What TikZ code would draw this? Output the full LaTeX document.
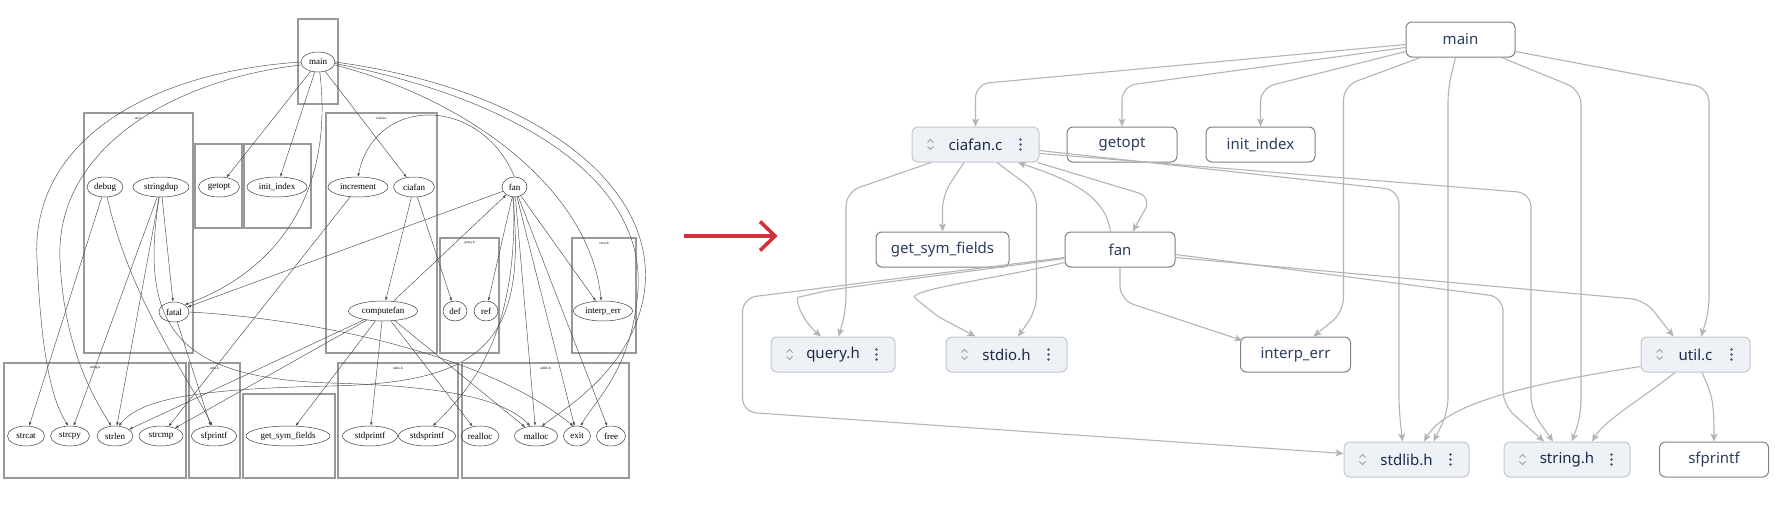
\documentclass[tikz,border=0pt]{standalone}
\usepackage{fontspec}
\setmainfont{Liberation Serif}
\newfontfamily\uisans{Noto Sans}
\usetikzlibrary{shapes.geometric,arrows.meta}
\definecolor{edgegray}{HTML}{B4B4B4}
\definecolor{boxborder}{HTML}{7D8087}
\definecolor{fileborder}{HTML}{C3C7CD}
\definecolor{filefill}{HTML}{EEF2F7}
\definecolor{navy}{HTML}{1B2A4A}
\definecolor{plaintext}{HTML}{2E3D5C}
\definecolor{icongray}{HTML}{9A9EA6}
\definecolor{arrowred}{HTML}{D2313A}
\tikzset{
  lnode/.style={ellipse, draw=black!75, line width=0.5pt, minimum height=20pt, inner sep=0pt, font=\fontsize{9}{9}\selectfont},
  lcluster/.style={draw=black!40, line width=1.3pt},
  lclabel/.style={font=\fontsize{3.5}{4}\selectfont, inner sep=0pt},
  le/.style={draw=black!70, line width=0.45pt, -{Latex[length=3.5pt,width=2.6pt]}},
  plain/.style={rectangle, rounded corners=6pt, draw=boxborder, line width=1pt, fill=white, minimum height=35pt, inner sep=0pt, font=\uisans\fontsize{15}{15}\selectfont, text=plaintext},
  file/.style={plain, draw=fileborder, fill=filefill, font=\uisans\bfseries\fontsize{15}{15}\selectfont, text=navy},
  re/.style={draw=edgegray, line width=1.1pt, rounded corners=14pt, -{Stealth[length=8pt,width=7pt,inset=2pt]}},
  redarrow/.style={draw=arrowred, line width=3.6pt}
}
\newcommand\fileicons[1]{%
  \draw[icongray, line width=0.8pt] ([shift={(16,-2)}]#1.west) -- ++(3,-3) -- ++(3,3);
  \draw[icongray, line width=0.8pt] ([shift={(16,2)}]#1.west) -- ++(3,3) -- ++(3,-3);
  \fill[navy!80] ([shift={(-19,-5)}]#1.east) circle (1.3) ([shift={(-19,0)}]#1.east) circle (1.3) ([shift={(-19,5)}]#1.east) circle (1.3);
}
\begin{document}
\begin{tikzpicture}[x=1pt,y=-1pt]
\useasboundingbox (0,0) rectangle (1780,506);
\fill[white] (0,0) rectangle (1780,506);

% ---------------- left: graphviz-like picture ----------------
\draw[lcluster] (298,19) rectangle (338,104);
\draw[lcluster] (84,113) rectangle (193,353);
\node[lclabel] at (138.5,118) {util.c};
\draw[lcluster] (195,144) rectangle (242,228);
\draw[lcluster] (244,144) rectangle (311,228);
\draw[lcluster] (326,113) rectangle (437,353);
\node[lclabel] at (381.5,118) {ciafan.c};
\draw[lcluster] (440,238) rectangle (499,353);
\node[lclabel] at (469.5,243) {query.h};
\draw[lcluster] (572,238) rectangle (636,353);
\node[lclabel] at (604,243) {error.h};
\draw[lcluster] (4,363) rectangle (186,478);
\node[lclabel] at (95,368) {string.h};
\draw[lcluster] (189,363) rectangle (240,478);
\node[lclabel] at (214.5,368) {stdx.h};
\draw[lcluster] (243,394) rectangle (335,478);
\draw[lcluster] (338,363) rectangle (458,478);
\node[lclabel] at (398,368) {stdio.h};
\draw[lcluster] (462,363) rectangle (629,478);
\node[lclabel] at (545.5,368) {stdlib.h};

\node[lnode, minimum width=34] (lmain) at (318,62) {main};
\node[lnode, minimum width=36] (ldebug) at (105,187) {debug};
\node[lnode, minimum width=56] (lstringdup) at (161,187) {stringdup};
\node[lnode, minimum width=41] (lgetopt) at (219,187) {getopt};
\node[lnode, minimum width=60] (linit) at (277,187) {init\_index};
\node[lnode, minimum width=60] (lincrement) at (358,187) {increment};
\node[lnode, minimum width=41] (lciafan) at (414,187) {ciafan};
\node[lnode, minimum width=25] (lfan) at (514.5,187) {fan};
\node[lnode, minimum width=30] (lfatal) at (174,312) {fatal};
\node[lnode, minimum width=69] (lcomputefan) at (383,311) {computefan};
\node[lnode, minimum width=24] (ldef) at (455,311) {def};
\node[lnode, minimum width=24] (lref) at (486,311) {ref};
\node[lnode, minimum width=59] (linterp) at (603,311) {interp\_err};
\node[lnode, minimum width=37] (lstrcat) at (26,436) {strcat};
\node[lnode, minimum width=39] (lstrcpy) at (70,436) {strcpy};
\node[lnode, minimum width=36] (lstrlen) at (115,436) {strlen};
\node[lnode, minimum width=44] (lstrcmp) at (161,436) {strcmp};
\node[lnode, minimum width=45] (lsfprintf) at (214,436) {sfprintf};
\node[lnode, minimum width=84] (lgsf) at (288,436) {get\_sym\_fields};
\node[lnode, minimum width=55] (lstdprintf) at (370,436) {stdprintf};
\node[lnode, minimum width=57] (lstdsprintf) at (427,436) {stdsprintf};
\node[lnode, minimum width=38] (lrealloc) at (480,436) {realloc};
\node[lnode, minimum width=43] (lmalloc) at (536,436) {malloc};
\node[lnode, minimum width=27] (lexit) at (577,436) {exit};
\node[lnode, minimum width=29] (lfree) at (611,436) {free};

\draw[le] (lmain) -- (lgetopt);
\draw[le] (lmain) -- (linit);
\draw[le] (lmain) -- (lciafan);
\draw[le] (lmain.-80) .. controls (334,190) and (280,270) .. (lfatal.north east);
\draw[le] (lmain.west) .. controls (150,72) and (30,140) .. (37,260) .. controls (42,370) and (55,405) .. (lstrcpy.100);
\draw[le] (lmain.190) .. controls (170,80) and (55,150) .. (60,260) .. controls (64,350) and (95,400) .. (lstrlen.110);
\draw[le] (lmain.-10) .. controls (470,100) and (590,190) .. (linterp.100);
\draw[le] (lmain.-5) .. controls (520,100) and (645,180) .. (638,290) .. controls (632,370) and (595,400) .. (lexit.70);
\draw[le] (lmain.0) .. controls (540,90) and (665,190) .. (643,300) .. controls (628,370) and (570,405) .. (lmalloc.60);
\draw[le] (lfan.north) .. controls (480,95) and (375,95) .. (lincrement.north);
\draw[le] (lfan) -- (lfatal);
\draw[le] (lcomputefan) -- (lfan);
\draw[le] (lfan) -- (lref);
\draw[le] (lfan) -- (linterp);
\draw[le] (lfan) -- (lexit);
\draw[le] (lfan) -- (lfree);
\draw[le] (lfan) -- (lmalloc);
\draw[le] (lfan.-95) .. controls (518,330) and (475,385) .. (lstdsprintf.60);
\draw[le] (lfan.-100) .. controls (528,345) and (480,383) .. (330,386) .. controls (190,389) and (140,400) .. (lstrlen.70);
\draw[le] (lstringdup.-100) .. controls (138,330) and (180,378) .. (330,383) .. controls (450,386) and (505,400) .. (lmalloc.120);
\draw[le] (lstringdup) -- (lfatal);
\draw[le] (lstringdup) -- (lstrcpy);
\draw[le] (lstringdup) -- (lstrlen);
\draw[le] (ldebug) -- (lstrcat);
\draw[le] (ldebug) .. controls (130,300) and (190,380) .. (lsfprintf.100);
\draw[le] (lfatal) -- (lsfprintf);
\draw[le] (lfatal.east) .. controls (300,318) and (480,350) .. (lexit.110);
\draw[le] (lciafan) -- (lcomputefan);
\draw[le] (lciafan) -- (ldef);
\draw[le] (lincrement) -- (lstrcmp);
\draw[le] (lcomputefan) -- (lstdprintf);
\draw[le] (lcomputefan) -- (lrealloc);
\draw[le] (lcomputefan) -- (lmalloc);
\draw[le] (lcomputefan) -- (lstrlen);
\draw[le] (lcomputefan) -- (lstrcmp);
\draw[le] (lcomputefan) -- (lgsf);

% ---------------- red arrow ----------------
\draw[redarrow] (684,236) -- (773,236);
\draw[redarrow, line join=miter] (760,221.5) -- (775,236) -- (760,250.5);

% ---------------- right: clean diagram ----------------
\node[plain, minimum width=109] (rmain) at (1460.5,39.5) {main};
\node[file, minimum width=127] (rciafan) at (975.5,144.5) {ciafan.c};
\node[plain, minimum width=110] (rgetopt) at (1122,144.5) {getopt};
\node[plain, minimum width=109] (rinit) at (1260.5,144.5) {init\_index};
\node[plain, minimum width=133] (rgsf) at (942.5,249.5) {get\_sym\_fields};
\node[plain, minimum width=110] (rfan) at (1120,249.5) {fan};
\node[file, minimum width=124] (rquery) at (833,354.5) {query.h};
\node[file, minimum width=121] (rstdio) at (1006.5,354.5) {stdio.h};
\node[plain, minimum width=110] (rinterp) at (1295.5,354.5) {interp\_err};
\node[file, minimum width=109] (rutil) at (1695.5,354.5) {util.c};
\node[file, minimum width=125] (rstdlib) at (1406.5,459.5) {stdlib.h};
\node[file, minimum width=126] (rstring) at (1567,459.5) {string.h};
\node[plain, minimum width=109] (rsfprintf) at (1714,459.5) {sfprintf};
\fileicons{rciafan}
\fileicons{rquery}
\fileicons{rstdio}
\fileicons{rutil}
\fileicons{rstdlib}
\fileicons{rstring}

\draw[re] ([shift={(0,5)}]rmain.west) -- (975.5,84) -- (rciafan.north);
\draw[re] ([shift={(0,8)}]rmain.west) -- (1122,86) -- (rgetopt.north);
\draw[re] ([shift={(0,12)}]rmain.west) -- (1260.5,88) -- (rinit.north);
\draw[re] ([shift={(-40,0)}]rmain.south) -- (1343.5,86) -- (1343.5,312) -- ([shift={(18,0)}]rinterp.north);
\draw[re] ([shift={(-5,0)}]rmain.south) -- (1448,88) -- (1448,412) -- ([shift={(27,0)}]rstdlib.north);
\draw[re] ([shift={(41,0)}]rmain.south) -- (1581,90) -- (1581,415) -- ([shift={(5,0)}]rstring.north);
\draw[re] ([shift={(0,12)}]rmain.east) -- (1709,88) -- (1709,312) -- ([shift={(5.5,0)}]rutil.north);

\draw[re] ([shift={(-44.5,0)}]rciafan.south) -- (846,192) -- (846,310) -- ([shift={(5.7,0)}]rquery.north);
\draw[re] ([shift={(-11.5,0)}]rciafan.south) -- (942.5,195) -- (rgsf.north);
\draw[re] ([shift={(21.5,0)}]rciafan.south) -- (1036.5,192) -- (1036.5,310) -- ([shift={(11.5,0)}]rstdio.north);
\draw[re] ([shift={(62,0)}]rciafan.south) -- (1152,197) -- ([shift={(12.7,0)}]rfan.north);
\draw[re] ([shift={(-9.5,0)}]rfan.north) .. controls (1105,195) and (1070,180) .. ([shift={(42.5,0)}]rciafan.south);
\draw[re] ([shift={(0,6)}]rciafan.east) -- (1399,190) -- (1399,410) -- ([shift={(-4,0)}]rstdlib.north);
\draw[re] ([shift={(0,9)}]rciafan.east) -- (1531,193) -- (1531,410) -- ([shift={(-14,0)}]rstring.north);

\draw[re] ([shift={(0,9)}]rfan.west) .. controls (950,274) and (840,288) .. (812,294) .. controls (795,298) and (800,318) .. ([shift={(-12,0)}]rquery.north);
\draw[re] ([shift={(0,13)}]rfan.west) .. controls (1000,278) and (905,290) .. (926,307) .. controls (940,318) and (960,328) .. ([shift={(-31,0)}]rstdio.north);
\draw[re] (rfan.south) -- (1120,300) -- ([shift={(2.5,-14)}]rinterp.west);
\draw[re] ([shift={(0,8)}]rfan.west) -- (742.5,298) -- (742.5,412) -- ([shift={(0,-6)}]rstdlib.west);
\draw[re] ([shift={(0,5)}]rfan.east) -- (1503,297) -- (1503,405) -- ([shift={(-23,0)}]rstring.north);
\draw[re] ([shift={(0,8)}]rfan.east) -- (1645,300) -- ([shift={(-22,0)}]rutil.north);

\draw[re] ([shift={(0,12)}]rutil.west) .. controls (1520,385) and (1445,405) .. ([shift={(17.5,0)}]rstdlib.north);
\draw[re] ([shift={(-20.5,0)}]rutil.south) .. controls (1640,400) and (1605,420) .. ([shift={(25,0)}]rstring.north);
\draw[re] ([shift={(6.5,0)}]rutil.south) .. controls (1712,395) and (1714,400) .. (rsfprintf.north);
\end{tikzpicture}
\end{document}
